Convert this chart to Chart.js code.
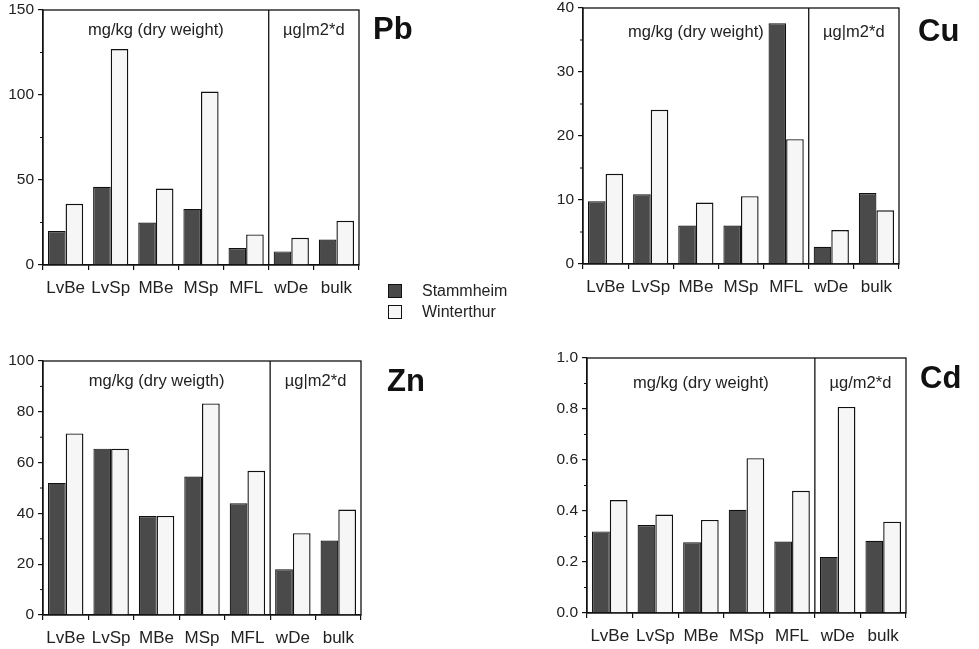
<!DOCTYPE html>
<html>
<head>
<meta charset="utf-8">
<script src="https://cdn.jsdelivr.net/npm/chart.js@4/dist/chart.umd.min.js"></script>
<style>
  body { margin: 0; background: #fff; width: 979px; height: 649px; position: relative; overflow: hidden; font-family: "Liberation Sans", Arial, sans-serif; }
  .panel { position: absolute; }
  .legend { position: absolute; left: 388px; top: 280px; font-size: 16px; color: #222; }
  .legend div { height: 21px; display: flex; align-items: center; }
  .legend span.box { display: inline-block; width: 12px; height: 12px; border: 1.5px solid #111; margin-right: 20px; }
</style>
</head>
<body>
<div class="panel" style="left:0;top:0;width:440px;height:300px"><canvas id="pb"></canvas></div>
<div class="panel" style="left:540px;top:0;width:439px;height:300px"><canvas id="cu"></canvas></div>
<div class="panel" style="left:0;top:340px;width:440px;height:309px"><canvas id="zn"></canvas></div>
<div class="panel" style="left:540px;top:340px;width:439px;height:309px"><canvas id="cd"></canvas></div>
<div class="legend">
  <div><span class="box" style="background:#4a4a4a"></span>Stammheim</div>
  <div><span class="box" style="background:#f6f6f6"></span>Winterthur</div>
</div>
<script>
const sites = ['LvBe', 'LvSp', 'MBe', 'MSp', 'MFL', 'wDe', 'bulk']

const pbStammheim = [20, 46, 25, 33, 10, 8, 15]
const pbWinterthur = [36, 127, 45, 102, 18, 16, 26]
const cuStammheim = [9.8, 10.9, 6.0, 6.0, 37.6, 2.7, 11.1]
const cuWinterthur = [14.1, 24.1, 9.6, 10.6, 19.5, 5.3, 8.4]
const znStammheim = [52, 65.5, 39, 54.5, 44, 18, 29.3]
const znWinterthur = [71.5, 65.5, 39, 83.3, 56.8, 32.2, 41.5]
const cdStammheim = [0.32, 0.345, 0.277, 0.405, 0.28, 0.22, 0.283]
const cdWinterthur = [0.443, 0.386, 0.365, 0.607, 0.479, 0.808, 0.358]

const FONT = '"Liberation Sans", Arial, sans-serif'

// box, divider, unit captions, element name and minor ticks
const panelDecor = {
  id: 'panelDecor',
  afterDraw (chart, args, o) {
    const { ctx, chartArea: a, scales: { x, y } } = chart
    ctx.save()
    ctx.strokeStyle = '#111'
    ctx.lineWidth = 1.3
    ctx.strokeRect(a.left, a.top, a.right - a.left, a.bottom - a.top)
    const div = (x.getPixelForTick(4) + x.getPixelForTick(5)) / 2
    ctx.beginPath()
    ctx.moveTo(div, a.top)
    ctx.lineTo(div, a.bottom)
    ctx.stroke()
    // minor ticks
    ctx.lineWidth = 1
    for (let v = o.step / 2; v < y.max; v += o.step) {
      const py = y.getPixelForValue(v)
      ctx.beginPath()
      ctx.moveTo(a.left - 3, py)
      ctx.lineTo(a.left, py)
      ctx.stroke()
    }
    ctx.fillStyle = '#222'
    ctx.font = '16.5px ' + FONT
    ctx.textAlign = 'center'
    ctx.textBaseline = 'middle'
    ctx.fillText(o.unit1, (a.left + div) / 2, a.top + o.unitY)
    ctx.fillText(o.unit2, (div + a.right) / 2, a.top + o.unitY)
    ctx.font = 'bold 31px ' + FONT
    ctx.textAlign = 'left'
    ctx.fillStyle = '#111'
    ctx.fillText(o.name, a.right + o.nameX, o.nameY)
    ctx.restore()
  }
}

function makeChart (id, stamm, winter, cfg) {
  return new Chart(id, {
    type: 'bar',
    data: {
      labels: sites,
      datasets: [
        { label: 'Stammheim', data: stamm, backgroundColor: '#4a4a4a', borderColor: '#111', borderWidth: 1.2 },
        { label: 'Winterthur', data: winter, backgroundColor: '#f6f6f6', borderColor: '#111', borderWidth: 1.4 }
      ]
    },
    options: {
      responsive: true,
      maintainAspectRatio: false,
      animation: false,
      layout: { padding: { top: cfg.top, right: cfg.right, left: 0, bottom: 0 } },
      datasets: { bar: { categoryPercentage: 0.78, barPercentage: 1.0 } },
      plugins: {
        legend: { display: false },
        tooltip: { enabled: false },
        panelDecor: cfg.decor
      },
      scales: {
        x: {
          grid: { offset: true, drawOnChartArea: false, tickLength: 5, color: '#111', lineWidth: 1.2 },
          border: { color: '#111', width: 1.3 },
          ticks: { color: '#222', font: { size: 17, family: FONT }, padding: 8, maxRotation: 0, autoSkip: false },
          afterFit: s => { s.height = cfg.xh; s.paddingLeft = 0; s.paddingRight = 0 }
        },
        y: {
          min: 0,
          max: cfg.max,
          grid: { drawOnChartArea: false, tickLength: 5, color: '#111', lineWidth: 1.2 },
          border: { color: '#111', width: 1.3 },
          ticks: {
            stepSize: cfg.decor.step,
            color: '#222',
            font: { size: 15.5, family: FONT },
            padding: 4,
            callback: v => cfg.fixed ? v.toFixed(1) : v
          },
          afterFit: s => { s.width = cfg.yw; s.paddingTop = 0; s.paddingBottom = 0 }
        }
      }
    },
    plugins: [panelDecor]
  })
}

makeChart('pb', pbStammheim, pbWinterthur, {
  max: 150, top: 10, right: 81, xh: 35, yw: 43,
  decor: { step: 50, unit1: 'mg/kg (dry weight)', unit2: 'µg|m2*d', unitY: 20, name: 'Pb', nameX: 14, nameY: 30 }
})
makeChart('cu', cuStammheim, cuWinterthur, {
  max: 40, top: 8, right: 80, xh: 36, yw: 43,
  decor: { step: 10, unit1: 'mg/kg (dry weight)', unit2: 'µg|m2*d', unitY: 24, name: 'Cu', nameX: 19, nameY: 32 }
})
makeChart('zn', znStammheim, znWinterthur, {
  max: 100, top: 21, right: 79, xh: 34, yw: 43,
  decor: { step: 20, unit1: 'mg/kg (dry weigth)', unit2: 'µg|m2*d', unitY: 20, name: 'Zn', nameX: 26, nameY: 42 }
})
makeChart('cd', cdStammheim, cdWinterthur, {
  max: 1.0, top: 18, right: 73, xh: 36, yw: 47, fixed: true,
  decor: { step: 0.2, unit1: 'mg/kg (dry weight)', unit2: 'µg/m2*d', unitY: 25, name: 'Cd', nameX: 14, nameY: 39 }
})
</script>
</body>
</html>
